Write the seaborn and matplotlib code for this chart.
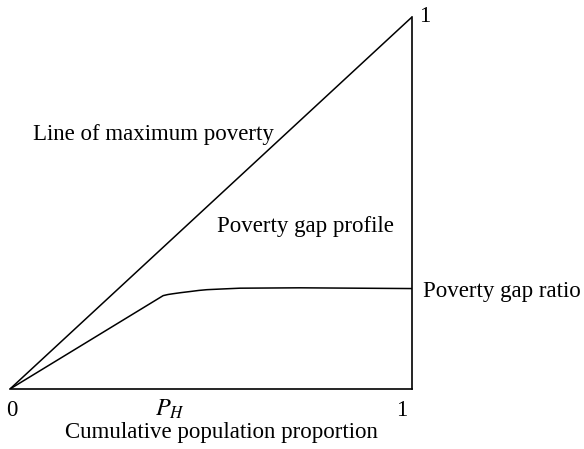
import numpy as np
import pandas as pd
import matplotlib
matplotlib.use('Agg')
import matplotlib.pyplot as plt
import seaborn as sns

# data
max_x = [0.0, 1.0]
max_y = [0.0, 1.0]
gap_x = [0.0, 0.381, 0.393, 0.405, 0.425, 0.448, 0.470, 0.490, 0.530, 0.572, 0.721, 1.0]
gap_y = [0.0, 0.251, 0.254, 0.256, 0.259, 0.262, 0.265, 0.267, 0.269, 0.271, 0.272, 0.270]
p_h = 0.381
tick_labels = ['0', '$P_H$', '1']
tick_vals = [0.0, p_h, 1.0]

sns.set_style('white')
plt.rcParams['font.family'] = ['Liberation Serif', 'DejaVu Serif']
plt.rcParams['mathtext.fontset'] = 'stix'
plt.rcParams['text.color'] = 'black'

fig = plt.figure(figsize=(5.84, 4.49), dpi=100)
ax = fig.add_axes([10/584, 1 - 389/449, 402/584, 372/449])

df_max = pd.DataFrame({'x': max_x, 'y': max_y})
df_gap = pd.DataFrame({'x': gap_x, 'y': gap_y})
sns.lineplot(data=df_max, x='x', y='y', color='black', lw=1.1, ax=ax)
sns.lineplot(data=df_gap, x='x', y='y', color='black', lw=1.1, ax=ax)

ax.set_xlim(0, 1)
ax.set_ylim(0, 1)
for s in ['left', 'top']:
    ax.spines[s].set_visible(False)
for s in ['bottom', 'right']:
    ax.spines[s].set_color('black')
    ax.spines[s].set_linewidth(1.2)
ax.set_xticks([])
ax.set_yticks([])
ax.set_xlabel('')
ax.set_ylabel('')

fs = 16.5
# tick labels, nudged like the original
offs = [0.005, 0.017, -0.025]
for v, lab, o in zip(tick_vals, tick_labels, offs):
    size = fs + 1 if '$' in lab else fs
    ax.text(v + o, -0.073, lab, ha='center', va='baseline', fontsize=size, clip_on=False)
ax.text(1.032, 0.987, '1', ha='center', va='baseline', fontsize=fs, clip_on=False)
ax.text(0.525, -0.131, 'Cumulative population proportion', ha='center', va='baseline',
        fontsize=fs, clip_on=False)

ax.text(0.057, 0.669, 'Line of maximum poverty', ha='left', va='baseline', fontsize=fs)
ax.text(0.515, 0.422, 'Poverty gap profile', ha='left', va='baseline', fontsize=fs)
ax.text(1.027, 0.247, 'Poverty gap ratio', ha='left', va='baseline', fontsize=fs,
        clip_on=False)

fig.savefig('out.png', dpi=100)
